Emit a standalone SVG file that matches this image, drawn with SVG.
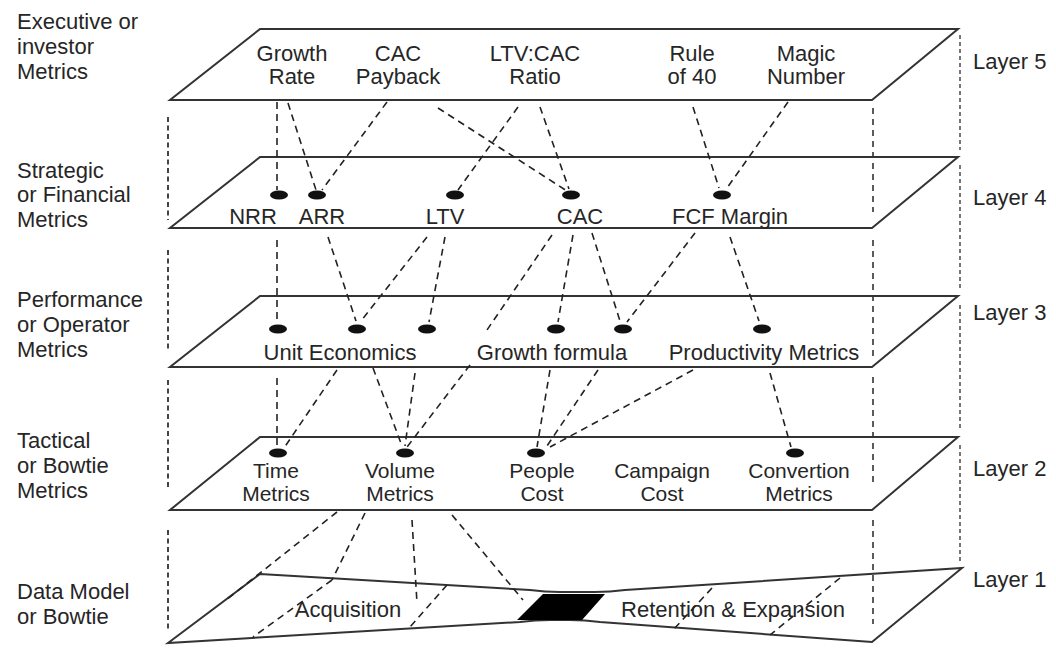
<svg xmlns="http://www.w3.org/2000/svg" width="1056" height="648" viewBox="0 0 1056 648">
<style>
text{font-family:"Liberation Sans",Arial,sans-serif;font-size:22px;fill:#262626}
.c{text-anchor:middle}
.s{font-size:21px}
.plane{fill:#fff;stroke:#333;stroke-width:2;stroke-linejoin:miter}
.dot{fill:#111}
.conn line{stroke:#222;stroke-width:1.6;stroke-dasharray:7 5;fill:none}
.gl{stroke:#444;stroke-width:2;stroke-dasharray:5 3.5}
.gr{stroke:#333;stroke-width:1.6;stroke-dasharray:6 5}
.gf{stroke:#777;stroke-width:2;stroke-dasharray:4 3}
</style>
<rect width="1056" height="648" fill="#fff"/>

<g id="side-labels">
<text x="17" y="29">Executive or</text>
<text x="17" y="54">investor</text>
<text x="17" y="79">Metrics</text>
<text x="17" y="178">Strategic</text>
<text x="17" y="202">or Financial</text>
<text x="17" y="227">Metrics</text>
<text x="17" y="307">Performance</text>
<text x="17" y="332">or Operator</text>
<text x="17" y="357">Metrics</text>
<text x="17" y="448">Tactical</text>
<text x="17" y="473">or Bowtie</text>
<text x="17" y="498">Metrics</text>
<text x="17" y="599">Data Model</text>
<text x="17" y="624">or Bowtie</text>
<text x="973" y="69">Layer 5</text>
<text x="973" y="205">Layer 4</text>
<text x="973" y="320">Layer 3</text>
<text x="973" y="476">Layer 2</text>
<text x="973" y="587">Layer 1</text>
</g>

<g id="layer5">
<polygon class="plane" points="260,29 958,29 872,100 170,100"/>
<text class="c" x="292" y="61">Growth</text><text class="c" x="292" y="84">Rate</text>
<text class="c" x="398" y="61">CAC</text><text class="c" x="398" y="84">Payback</text>
<text class="c" x="535" y="61">LTV:CAC</text><text class="c" x="535" y="84">Ratio</text>
<text class="c" x="692" y="61">Rule</text><text class="c" x="692" y="84">of 40</text>
<text class="c" x="806" y="61">Magic</text><text class="c" x="806" y="84">Number</text>
</g>

<g id="layer4">
<polygon class="plane" points="260,157 958,157 872,228 170,228"/>
<ellipse class="dot" cx="279" cy="195" rx="9" ry="4.5"/>
<ellipse class="dot" cx="317" cy="195" rx="9" ry="4.5"/>
<ellipse class="dot" cx="455" cy="195" rx="9" ry="4.5"/>
<ellipse class="dot" cx="571" cy="195" rx="9" ry="4.5"/>
<ellipse class="dot" cx="722" cy="195" rx="9" ry="4.5"/>
<text class="c" x="253" y="224">NRR</text>
<text class="c" x="322" y="224">ARR</text>
<text class="c" x="445" y="224">LTV</text>
<text class="c" x="580" y="224">CAC</text>
<text class="c" x="730" y="224">FCF Margin</text>
</g>

<g id="layer3">
<polygon class="plane" points="260,296 958,296 872,367 170,367"/>
<ellipse class="dot" cx="278" cy="329" rx="9" ry="4.5"/>
<ellipse class="dot" cx="357" cy="329" rx="9" ry="4.5"/>
<ellipse class="dot" cx="427" cy="329" rx="9" ry="4.5"/>
<ellipse class="dot" cx="556" cy="329" rx="9" ry="4.5"/>
<ellipse class="dot" cx="623" cy="329" rx="9" ry="4.5"/>
<ellipse class="dot" cx="762" cy="329" rx="9" ry="4.5"/>
<text class="c" x="340" y="360">Unit Economics</text>
<text class="c" x="552" y="360">Growth formula</text>
<text class="c" x="764" y="360">Productivity Metrics</text>
</g>

<g id="layer2">
<polygon class="plane" points="260,437 958,437 872,510 170,510"/>
<ellipse class="dot" cx="278" cy="453" rx="9" ry="4.5"/>
<ellipse class="dot" cx="405" cy="453" rx="9" ry="4.5"/>
<ellipse class="dot" cx="536" cy="453" rx="9" ry="4.5"/>
<ellipse class="dot" cx="795" cy="453" rx="9" ry="4.5"/>
<text class="c s" x="276" y="478">Time</text><text class="c s" x="276" y="501">Metrics</text>
<text class="c s" x="400" y="478">Volume</text><text class="c s" x="400" y="501">Metrics</text>
<text class="c s" x="542" y="478">People</text><text class="c s" x="542" y="501">Cost</text>
<text class="c s" x="662" y="478">Campaign</text><text class="c s" x="662" y="501">Cost</text>
<text class="c s" x="799" y="478">Convertion</text><text class="c s" x="799" y="501">Metrics</text>
</g>

<g id="layer1">
<path class="plane" d="M260,574 L530,590 Q545,592 560,592 L595,592 Q610,592 625,590 L962,568 L872,642 L600,622 Q585,620 570,620 L550,620 Q535,620 520,622 L168,643 Z"/>
<polygon fill="#000" points="543,594 605,594 582,620 517,620"/>
<text class="c" x="348" y="617">Acquisition</text>
<text class="c" x="733" y="617">Retention &amp; Expansion</text>
</g>

<g id="guides">
<line class="gl" x1="168" y1="117" x2="168" y2="220"/>
<line class="gl" x1="168" y1="250" x2="168" y2="350"/>
<line class="gl" x1="168" y1="380" x2="168" y2="488"/>
<line class="gl" x1="168" y1="530" x2="168" y2="632"/>
<line class="gr" x1="873" y1="108" x2="873" y2="212"/>
<line class="gr" x1="873" y1="240" x2="873" y2="360"/>
<line class="gr" x1="873" y1="377" x2="873" y2="482"/>
<line class="gr" x1="873" y1="520" x2="873" y2="624"/>
<line class="gf" x1="960" y1="35" x2="960" y2="150"/>
<line class="gf" x1="960" y1="165" x2="960" y2="290"/>
<line class="gf" x1="960" y1="305" x2="960" y2="430"/>
<line class="gf" x1="960" y1="445" x2="960" y2="563"/>
</g>

<g id="connectors" class="conn">
<line x1="277" y1="102" x2="277" y2="190"/>
<line x1="288" y1="103" x2="316" y2="190"/>
<line x1="387" y1="102" x2="322" y2="190"/>
<line x1="438" y1="108" x2="567" y2="191"/>
<line x1="518" y1="107" x2="458" y2="190"/>
<line x1="540" y1="107" x2="569" y2="189"/>
<line x1="693" y1="107" x2="719" y2="188"/>
<line x1="788" y1="102" x2="727" y2="188"/>

<line x1="277" y1="240" x2="277" y2="323"/>
<line x1="328" y1="237" x2="356" y2="321"/>
<line x1="427" y1="237" x2="361" y2="321"/>
<line x1="445" y1="237" x2="429" y2="322"/>
<line x1="552" y1="235" x2="487" y2="330"/>
<line x1="573" y1="235" x2="558" y2="322"/>
<line x1="592" y1="233" x2="620" y2="321"/>
<line x1="695" y1="233" x2="627" y2="322"/>
<line x1="730" y1="237" x2="759" y2="321"/>

<line x1="277" y1="378" x2="277" y2="446"/>
<line x1="337" y1="370" x2="284" y2="448"/>
<line x1="373" y1="368" x2="402" y2="446"/>
<line x1="415" y1="373" x2="405" y2="446"/>
<line x1="470" y1="365" x2="407" y2="447"/>
<line x1="550" y1="370" x2="537" y2="447"/>
<line x1="598" y1="370" x2="545" y2="449"/>
<line x1="693" y1="370" x2="550" y2="447"/>
<line x1="770" y1="373" x2="791" y2="447"/>

<line x1="337" y1="512" x2="226" y2="600"/>
<line x1="365" y1="513" x2="332" y2="580"/>
<line x1="332" y1="580" x2="253" y2="637"/>
<line x1="412" y1="520" x2="417" y2="603"/>
<line x1="447" y1="585" x2="410" y2="627"/>
<line x1="452" y1="515" x2="523" y2="600"/>
<line x1="712" y1="588" x2="673" y2="630"/>
<line x1="840" y1="578" x2="770" y2="635"/>
</g>
</svg>
